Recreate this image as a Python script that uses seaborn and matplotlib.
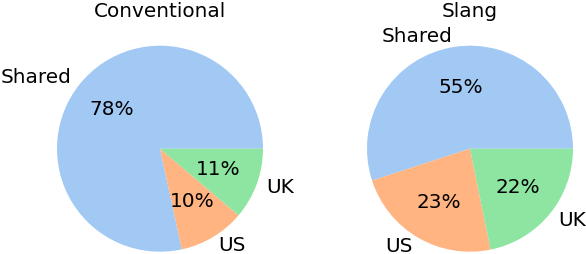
import matplotlib
matplotlib.use("Agg")
import matplotlib.pyplot as plt
import seaborn as sns

labels = ["Shared", "US", "UK"]
conventional = [78.4, 10.4, 11.2]
slang = [55.0, 23.2, 21.8]
titles = ["Conventional", "Slang"]

sns.set_theme(style="white")
plt.rcParams["font.family"] = ["DejaVu Sans"]
plt.rcParams["text.color"] = "black"
colors = sns.color_palette("pastel")[:3]

W, H = 586, 254
R = 103.0          # pie radius in pixels
cy = 148.7         # pie centre, pixels from top
centres = [160.0, 470.0]
fs = 14.4

fig = plt.figure(figsize=(W / 100, H / 100), dpi=100)

for i, (vals, title) in enumerate(zip([conventional, slang], titles)):
    x0 = i * W / 2
    ax = fig.add_axes([x0 / W, 0, 0.5, 1])
    ax.pie(vals, labels=labels, colors=colors, autopct="%1.0f%%",
           textprops={"fontsize": fs, "color": "black"},
           wedgeprops={"linewidth": 0})
    cx = centres[i] - x0
    ax.set_xlim(-cx / R, (W / 2 - cx) / R)
    ax.set_ylim(-(H - cy) / R, cy / R)
    # title centred over the pie, not over the axes box
    ax.set_title(title, fontsize=fs, color="black",
                 x=cx / (W / 2), y=237 / H, pad=0)

fig.savefig("out.png", dpi=100)
